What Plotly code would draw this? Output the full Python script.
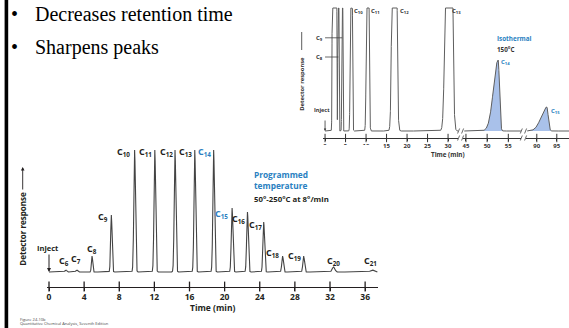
import numpy as np
import plotly.graph_objects as go

W, H = 569, 328

# ---------------- data ----------------
# Programmed temperature chromatogram (bottom)
prog_labels = ["C6", "C7", "C8", "C9", "C10", "C11", "C12", "C13", "C14",
               "C15", "C16", "C17", "C18", "C19", "C20", "C21"]
prog_times = [1.9, 3.15, 4.9, 7.1, 9.75, 12.05, 14.35, 16.6, 18.75,
              20.85, 22.6, 24.45, 26.6, 29.0, 32.4, 36.8]
prog_heights = [2, 2, 16, 57, 122, 122, 122, 122, 122,
                64, 60, 50, 16, 16, 5, 2]
prog_sigma = [0.1, 0.1, 0.07, 0.08, 0.09, 0.09, 0.09, 0.09, 0.09,
              0.09, 0.09, 0.09, 0.09, 0.09, 0.15, 0.2]
prog_ticks = [0, 4, 8, 12, 16, 20, 24, 28, 32, 36]

# Isothermal chromatogram (top), 150 C
iso_labels = ["", "", "C8", "C9", "C10", "C11", "C12", "C13", "C14", "C15"]
iso_times = [2.0, 2.6, 3.25, 4.2, 6.4, 10.4, 16.9, 30.3, 52.6, 92.5]
iso_heights = [2000, 2000, 500, 500, 700, 570, 840, 910, 71, 24]
iso_sigma_lead = [0.12, 0.12, 0.08, 0.08, 0.15, 0.2, 0.35, 0.55, 1.1, 1.4]
iso_sigma_tail = [0.12, 0.12, 0.08, 0.08, 0.15, 0.2, 0.35, 0.45, 0.3, 0.35]
iso_full_scale = 123
iso_ticks_a = [0, 5, 10, 15, 20, 25, 30]
iso_ticks_b = [45, 50, 55]
iso_ticks_c = [90, 95]

# ---------------- helpers ----------------
def px(x):
    return x / W

def py(y):
    return 1 - y / H

def chrom(t, times, heights, s_lead, s_tail):
    y = np.zeros_like(t)
    for tc, h, sl, sr in zip(times, heights, s_lead, s_tail):
        s = np.where(t < tc, sl, sr)
        y += h * np.exp(-0.5 * ((t - tc) / s) ** 2)
    return y

SANS = "Open Sans"
INK = "#231f20"
BLUE = "#2a7fc1"

# axis ranges / domains (pixel-based layout)
prog_xr = [-0.25, 37.5]
prog_yr = [-14.5, 130.5]
iso_yr = [-7, 129]
seg_a = [-0.5, 32.5]
seg_b = [44.3, 58.0]
seg_c = [87.3, 98.05]

fig = go.Figure()

# bottom chromatogram
t_prog = np.arange(0, prog_xr[1] - 0.1, 0.005)
y_prog = chrom(t_prog, prog_times, prog_heights, prog_sigma, prog_sigma)
fig.add_trace(go.Scatter(x=t_prog, y=y_prog, xaxis="x", yaxis="y", mode="lines",
                         line=dict(color="#444444", width=1.1), hoverinfo="skip"))
fig.add_trace(go.Scatter(x=prog_ticks, y=[prog_yr[0]] * len(prog_ticks), xaxis="x", yaxis="y",
                         mode="markers", cliponaxis=False, hoverinfo="skip",
                         marker=dict(symbol="line-ns", size=7, color=INK,
                                     line=dict(width=1.3, color=INK))))

# top chromatogram (broken axis: three segments)
ta = np.arange(0, seg_a[1], 0.005)
ya = np.minimum(chrom(ta, iso_times, iso_heights, iso_sigma_lead, iso_sigma_tail), iso_full_scale)
tb = np.arange(seg_b[0] + 0.3, seg_b[1], 0.01)
yb = np.minimum(chrom(tb, iso_times, iso_heights, iso_sigma_lead, iso_sigma_tail), iso_full_scale)
tc_ = np.arange(seg_c[0] + 0.3, seg_c[1], 0.01)
yc = np.minimum(chrom(tc_, iso_times, iso_heights, iso_sigma_lead, iso_sigma_tail), iso_full_scale)

line_top = dict(color="#5e5e5e", width=1)
fig.add_trace(go.Scatter(x=ta, y=ya, xaxis="x2", yaxis="y2", mode="lines", line=line_top,
                         hoverinfo="skip"))
fig.add_trace(go.Scatter(x=tb, y=yb, xaxis="x3", yaxis="y2", mode="lines", line=line_top,
                         fill="tozeroy", fillcolor="#a9c1ea", hoverinfo="skip"))
fig.add_trace(go.Scatter(x=tc_, y=yc, xaxis="x4", yaxis="y2", mode="lines", line=line_top,
                         fill="tozeroy", fillcolor="#a9c1ea", hoverinfo="skip"))
for ax, ticks in (("x2", iso_ticks_a), ("x3", iso_ticks_b), ("x4", iso_ticks_c)):
    fig.add_trace(go.Scatter(x=ticks, y=[iso_yr[0]] * len(ticks), xaxis=ax, yaxis="y2",
                             mode="markers", cliponaxis=False, hoverinfo="skip",
                             marker=dict(symbol="line-ns", size=6, color="#333",
                                         line=dict(width=1, color="#333"))))

bottom_tickfont = dict(family=SANS, size=8.5, color=INK, weight="bold")
top_tickfont = dict(family=SANS, size=6, color="#333", weight="bold")

def top_x(dom_px, rng, ticks):
    return dict(domain=[px(dom_px[0]), px(dom_px[1])], range=rng, anchor="y2",
                showline=True, linecolor="#333", linewidth=1, ticks="outside",
                ticklen=2, tickwidth=1, tickcolor="#333", tickvals=ticks,
                ticklabelstandoff=0,
                tickfont=top_tickfont, showgrid=False, zeroline=False, fixedrange=True)

fig.update_layout(
    width=W, height=H, autosize=False,
    margin=dict(l=0, r=0, t=0, b=0),
    paper_bgcolor="white", plot_bgcolor="white",
    showlegend=False,
    xaxis=dict(domain=[px(46.8), px(378.3)], range=prog_xr, anchor="y",
               showline=True, linecolor=INK, linewidth=1.3, ticks="outside",
               ticklen=3, tickwidth=1.3, tickcolor=INK, tickvals=prog_ticks,
               ticklabelstandoff=-1,
               tickfont=bottom_tickfont, showgrid=False, zeroline=False),
    yaxis=dict(domain=[py(286.5), py(141.5)], range=prog_yr, anchor="x", visible=False),
    xaxis2=top_x((323, 458.3), seg_a, iso_ticks_a),
    xaxis3=top_x((463, 521), seg_b, iso_ticks_b),
    xaxis4=top_x((526, 569), seg_c, iso_ticks_c),
    yaxis2=dict(domain=[py(138), py(2)], range=iso_yr, anchor="x2", visible=False),
)

shapes = []
# slide's left border
shapes.append(dict(type="rect", xref="paper", yref="paper", x0=px(4.6), x1=px(8.2),
                   y0=0, y1=1, fillcolor="black", line=dict(width=0), layer="above"))
# lower picture overlapping the top picture's first tick labels
shapes.append(dict(type="rect", xref="paper", yref="paper", x0=px(300), x1=px(377.5),
                   y0=py(149.5), y1=py(145), fillcolor="white", line=dict(width=0),
                   layer="above"))
# axis break marks
for bx in (458.6, 462.6, 521.3, 525.6):
    for by in (131, 138):
        shapes.append(dict(type="line", xref="paper", yref="paper",
                           x0=px(bx - 1), y0=py(by + 2.5), x1=px(bx + 1), y1=py(by - 2.5),
                           line=dict(color="#444", width=0.8)))

ann = []

def text(x, y, s, size, color=INK, family=SANS, xanchor="center", bold=True, angle=0):
    ann.append(dict(x=px(x), y=py(y), xref="paper", yref="paper", text=s,
                    showarrow=False, xanchor=xanchor, yanchor="middle", textangle=angle,
                    font=dict(family=family, size=size, color=color,
                              weight="bold" if bold else "normal")))

def sub(lbl):
    return lbl[0] + "<sub>" + lbl[1:] + "</sub>"

# bullets
SERIF = "Liberation Serif"
text(14, 14.5, "•", 20, "black", SERIF, bold=False)
text(33, 14.5, "Decreases retention time", 20, "black", SERIF, "left", bold=False)
text(14, 47, "•", 20, "black", SERIF, bold=False)
text(33, 47, "Sharpens peaks", 20, "black", SERIF, "left", bold=False)

# bottom chart labels
prog_label_pos = [(64, 260.5), (76, 258.5), (92, 249), (102.5, 217), (123.7, 151.5), (145, 151.5),
                  (166, 151.5), (185, 151.5), (204, 151.5), (221.7, 213.5), (238.8, 218.5),
                  (255, 224.5), (272.7, 252.5), (294.7, 255.5), (333.8, 261), (370.8, 261)]
prog_blue = {"C14", "C15"}
for lbl, (lx, ly) in zip(prog_labels, prog_label_pos):
    text(lx, ly, sub(lbl), 9, BLUE if lbl in prog_blue else INK)
text(48, 248.3, "Inject", 7.5)
ann.append(dict(x=0, y=0, xref="x", yref="y", ax=0, ay=-19, axref="pixel", ayref="pixel",
                showarrow=True, arrowhead=2, arrowsize=0.8, arrowwidth=1, arrowcolor=INK,
                text=""))
text(252, 174, "Programmed", 8.3, BLUE, xanchor="left")
text(252, 185.5, "temperature", 8.3, BLUE, xanchor="left")
text(252, 199, "50°-250°C at 8°/min", 7.8, INK, xanchor="left")
text(213.3, 307.5, "Time (min)", 8.5)
text(22.7, 229, "Detector response", 8, angle=-90)
ann.append(dict(x=px(22.7), y=py(167), xref="paper", yref="paper",
                ax=0, ay=24, axref="pixel", ayref="pixel",
                showarrow=True, arrowhead=2, arrowsize=0.8, arrowwidth=0.9,
                arrowcolor=INK, text=""))

# top chart labels
iso_label_pos = [None, None, (319.7, 57), (319.7, 37.8), (358.7, 11), (375, 11),
                 (404.3, 11), (456, 11), (505, 62), (555, 111)]
for lbl, pos, tpk in zip(iso_labels, iso_label_pos, iso_times):
    if not lbl:
        continue
    text(pos[0], pos[1], sub(lbl), 6, BLUE if lbl in ("C14", "C15") else "#333")
    if lbl in ("C8", "C9"):
        # leader line from label to its peak
        shapes.append(dict(type="line", xref="x2", yref="paper", x0=0, x1=tpk,
                           y0=py(pos[1]), y1=py(pos[1]), line=dict(color="#444", width=0.8)))
text(321.7, 110.3, "Inject", 5.5, "#333")
ann.append(dict(x=0, y=0, xref="x2", yref="y2", ax=0, ay=-12, axref="pixel", ayref="pixel",
                showarrow=True, arrowhead=2, arrowsize=0.6, arrowwidth=0.8, arrowcolor="#333",
                text=""))
text(495, 38.5, "Isothermal", 6.3, BLUE, xanchor="left")
text(495, 49.5, "150°C", 6.3, "#333", xanchor="left")
text(448, 154, "Time (min)", 6.3, "#333")
text(301.7, 84, "Detector response", 5.8, "#333", angle=-90)
shapes.append(dict(type="line", xref="paper", yref="paper", x0=px(301.7), x1=px(301.7),
                   y0=py(50), y1=py(32), line=dict(color="#333", width=0.8)))

# caption
text(18, 319.5, "Figure 24-10b", 4, "#444", xanchor="left", bold=False)
text(18, 323.7, "Quantitative Chemical Analysis, Seventh Edition", 4, "#444",
     xanchor="left", bold=False)

fig.update_layout(shapes=shapes, annotations=ann)
fig.write_html("out.html")
